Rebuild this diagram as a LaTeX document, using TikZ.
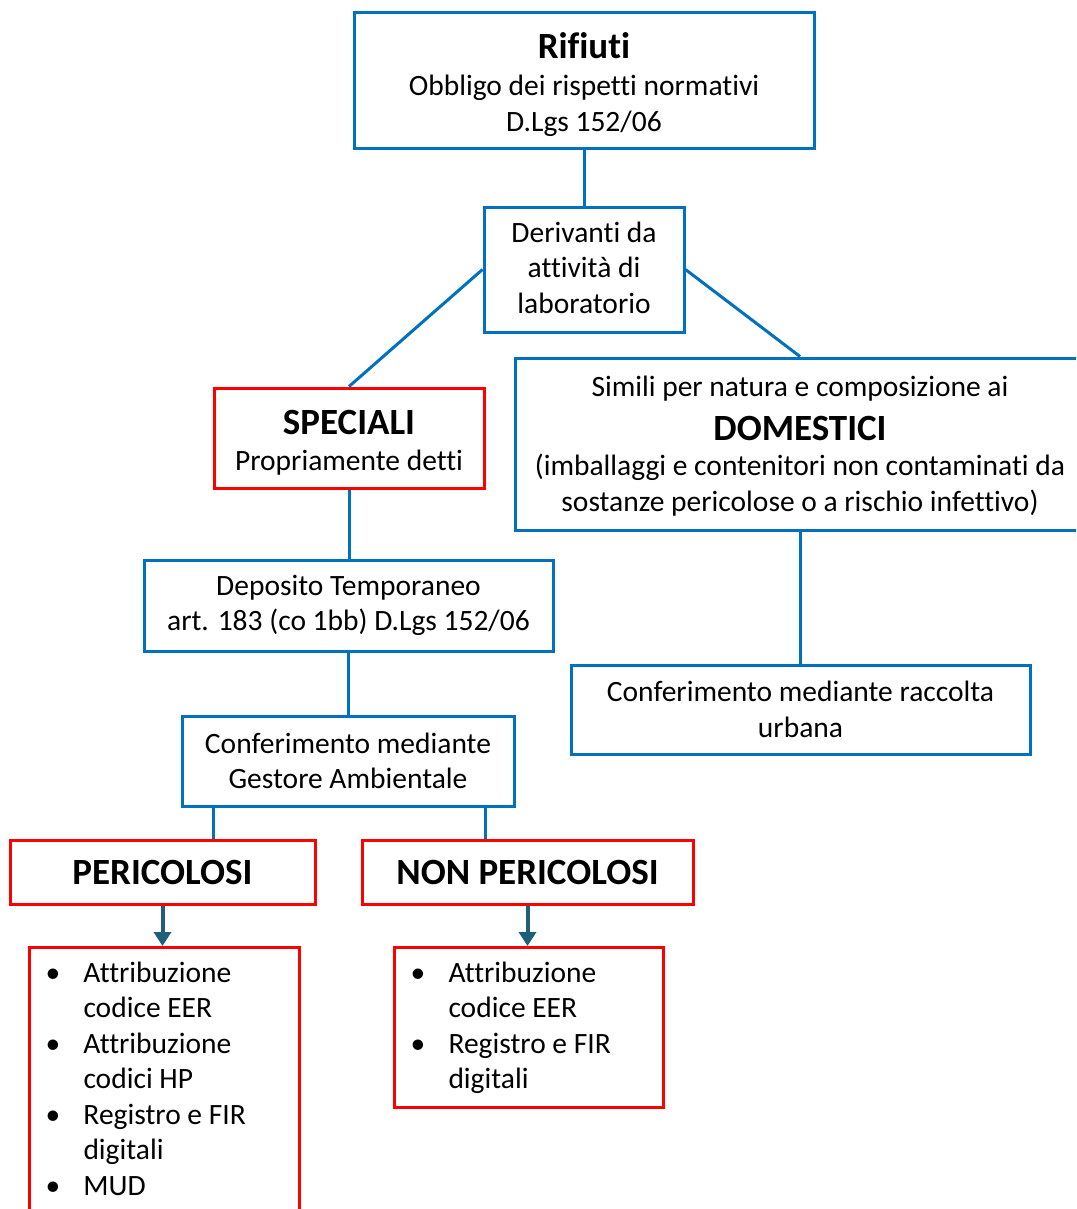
\documentclass[tikz,border=0pt]{standalone}
\usepackage{fontspec}
\setmainfont{Carlito}[Ligatures={NoCommon}]
\usetikzlibrary{arrows.meta}
\definecolor{bl}{RGB}{0,112,192}
\definecolor{rd}{RGB}{255,0,0}
\definecolor{ar}{RGB}{31,95,125}
\newcommand\bigb[1]{{\fontsize{37}{40}\selectfont\bfseries #1}}
\newcommand\lowered[2]{\raisebox{-#1}[\height][\depth]{\begin{tabular}{@{}c@{}}#2\end{tabular}}}
\begin{document}
\begin{tikzpicture}[x=1pt,y=-1pt,
 base/.style={draw, line width=3pt, fill=white, align=center, font=\fontsize{29.5}{35.5}\selectfont, inner sep=0pt},
 bbox/.style={base, draw=bl},
 rbox/.style={base, draw=rd},
 conn/.style={draw=bl, line width=3pt},
 arr/.style={draw=ar, line width=4pt, -{Triangle[width=17pt,length=14pt]}}]
\useasboundingbox (0,0) rectangle (1076,1209);
\clip (0,0) rectangle (1076,1209);
\fill[white] (0,0) rectangle (1076,1209);

\node[bbox, minimum width=460, minimum height=136] (rif) at (584,81) {\lowered{6pt}{\bigb{Rifiuti}\\[2pt] Obbligo dei rispetti normativi\\ D.Lgs 152/06}};
\node[bbox, minimum width=200, minimum height=125] (der) at (584,269.5) {\lowered{1pt}{Derivanti da\\ attività di\\ laboratorio}};
\node[rbox, minimum width=270, minimum height=100] (spec) at (349,438) {\lowered{7.5pt}{\bigb{SPECIALI}\\[0pt] Propriamente detti}};
\node[bbox, minimum width=570, minimum height=172] (dom) at (800,444) {\lowered{3pt}{Simili per natura e composizione ai\\[8pt] \bigb{DOMESTICI}\\ (imballaggi e contenitori non contaminati da\\ sostanze pericolose o a rischio infettivo)}};
\node[bbox, minimum width=409, minimum height=91] (dep) at (348.5,605.5) {Deposito Temporaneo\\ art. 183 (co 1bb) D.Lgs 152/06};
\node[bbox, minimum width=332, minimum height=90] (gest) at (348,761) {Conferimento mediante\\ Gestore Ambientale};
\node[bbox, minimum width=459, minimum height=89] (urb) at (800.5,709.5) {Conferimento mediante raccolta\\ urbana};
\node[rbox, minimum width=305, minimum height=64, font=\fontsize{37}{40}\selectfont\bfseries] (peri) at (162.5,872) {PERICOLOSI};
\node[rbox, minimum width=331, minimum height=64, font=\fontsize{37}{40}\selectfont\bfseries] (nonp) at (527.5,872) {NON PERICOLOSI};

\node[rbox, anchor=north west, inner xsep=16pt, inner ysep=0pt] (plist) at (28,946) {\parbox[c][285pt][t]{238pt}{\vspace*{10pt}\begin{tabular}{@{}p{38pt}@{}l@{}}
\textbullet & Attribuzione\\
 & codice EER\\
\textbullet & Attribuzione\\
 & codici HP\\
\textbullet & Registro e FIR\\
 & digitali\\
\textbullet & MUD
\end{tabular}}};
\node[rbox, anchor=north west, inner xsep=16pt, inner ysep=0pt] (nplist) at (393,946) {\parbox[c][160pt][t]{237pt}{\vspace*{10pt}\begin{tabular}{@{}p{38pt}@{}l@{}}
\textbullet & Attribuzione\\
 & codice EER\\
\textbullet & Registro e FIR\\
 & digitali
\end{tabular}}};

\draw[conn] (rif.south) -- (der.north);
\draw[conn] (der.west) -- (spec.north);
\draw[conn] (der.east) -- (dom.north);
\draw[conn] (spec.south) -- (spec.south |- dep.north);
\draw[conn] (dep.south) -- (dep.south |- gest.north);
\draw[conn] (dom.south) -- (dom.south |- urb.north);
\draw[conn] ([xshift=33pt]gest.south west) -- ([xshift=33pt]gest.south west |- peri.north);
\draw[conn] ([xshift=-30pt]gest.south east) -- ([xshift=-30pt]gest.south east |- nonp.north);
\draw[arr] (peri.south) -- (peri.south |- plist.north);
\draw[arr] (nonp.south) -- (nonp.south |- nplist.north);
\end{tikzpicture}
\end{document}
